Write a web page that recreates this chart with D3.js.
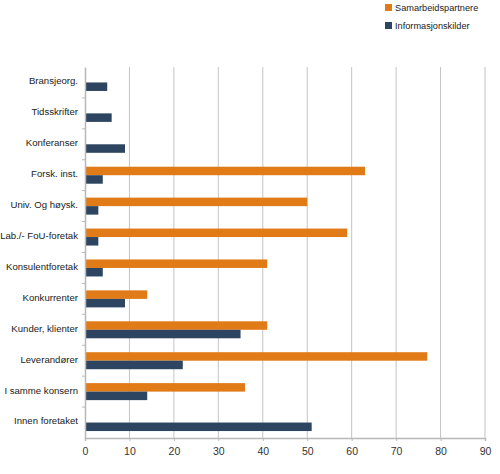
<!DOCTYPE html>
<html>
<head>
<meta charset="utf-8">
<script src="https://d3js.org/d3.v7.min.js"></script>
<style>
  body { margin: 0; background: #fff; }
  text { font-family: "Liberation Sans", Arial, sans-serif; }
</style>
</head>
<body>
<div id="container"></div>
<script>
let w = 500;
let h = 474;

// data
let categories = [
  "Bransjeorg.", "Tidsskrifter", "Konferanser", "Forsk. inst.",
  "Univ. Og høysk.", "Lab./- FoU-foretak", "Konsulentforetak", "Konkurrenter",
  "Kunder, klienter", "Leverandører", "I samme konsern", "Innen foretaket"
];
let samarbeid = [0, 0, 0, 63, 50, 59, 41, 14, 41, 77, 36, 0];
let informasjon = [5, 6, 9, 4, 3, 3, 4, 9, 35, 22, 14, 51];
let seriesNames = ["Samarbeidspartnere", "Informasjonskilder"];
let seriesColors = ["#e07b17", "#2d4560"];
let xTicks = [0, 10, 20, 30, 40, 50, 60, 70, 80, 90];

let plotLeft = 85, plotRight = 485, plotTop = 67, plotBottom = 438;

let viz = d3.select("#container")
  .append("svg")
    .attr("width", w)
    .attr("height", h)
;

let xScale = d3.scaleLinear().domain([0, 90]).range([plotLeft, plotRight]);
let yScale = d3.scaleBand().domain(categories).range([plotTop, plotBottom]);
// bars take 55% of the band, centred
let inner = d3.scaleBand().domain(seriesNames)
  .range([yScale.bandwidth() * 0.225, yScale.bandwidth() * 0.775]);

// gridlines
viz.append("g").attr("class", "grid")
  .selectAll("line").data(xTicks.slice(1)).enter()
  .append("line")
    .attr("x1", d => xScale(d)).attr("x2", d => xScale(d))
    .attr("y1", plotTop).attr("y2", plotBottom)
    .attr("stroke", d => d == 90 ? "#d6d6d6" : "#c4c4c4")
    .attr("stroke-width", d => d == 90 ? 1.5 : 1)
;

// x axis
let xAxisGroup = viz.append("g").attr("class", "xaxis")
  .attr("transform", "translate(0," + plotBottom + ")");
let xAxis = d3.axisBottom(xScale).tickValues(xTicks).tickSize(3).tickPadding(7);
xAxisGroup.call(xAxis);
xAxisGroup.select(".domain").attr("stroke", "#b8b8b8").attr("stroke-width", 1.5);
xAxisGroup.selectAll(".tick line").attr("stroke", "#b8b8b8");
xAxisGroup.selectAll("text").attr("font-size", 10.5).attr("fill", "#333")
  .attr("font-family", "'Liberation Sans', Arial, sans-serif");

// bars
let groups = viz.append("g").attr("class", "bars")
  .selectAll(".datagroup").data(categories).enter()
  .append("g")
    .attr("class", "datagroup")
    .attr("transform", d => "translate(0," + yScale(d) + ")")
;

groups.selectAll("rect")
  .data((d, i) => [
    { s: seriesNames[0], v: samarbeid[i], c: seriesColors[0] },
    { s: seriesNames[1], v: informasjon[i], c: seriesColors[1] }
  ])
  .enter()
  .append("rect")
    .attr("x", xScale(0))
    .attr("y", d => inner(d.s))
    .attr("width", d => xScale(d.v) - xScale(0))
    .attr("height", inner.bandwidth())
    .attr("fill", d => d.c)
;

// y axis
let yAxisGroup = viz.append("g").attr("class", "yaxis")
  .attr("transform", "translate(" + plotLeft + ",0)");
let yAxis = d3.axisLeft(yScale).tickSize(0).tickPadding(7);
yAxisGroup.call(yAxis);
yAxisGroup.select(".domain").attr("stroke", "#b8b8b8").attr("stroke-width", 1.5);
yAxisGroup.selectAll("text").attr("font-size", 9.6).attr("fill", "#222")
  .attr("font-family", "'Liberation Sans', Arial, sans-serif")
  .attr("dy", "0.2em");
// small ticks on band boundaries
yAxisGroup.selectAll(".bandtick")
  .data(categories.slice(1)).enter()
  .append("line")
    .attr("class", "bandtick")
    .attr("x1", -3).attr("x2", 0)
    .attr("y1", d => yScale(d)).attr("y2", d => yScale(d))
    .attr("stroke", "#b8b8b8")
;

// legend
let legend = viz.append("g").attr("class", "legend")
  .selectAll("g").data(seriesNames).enter()
  .append("g")
    .attr("transform", (d, i) => "translate(385," + (4 + i * 18) + ")")
;
legend.append("rect").attr("width", 7).attr("height", 7)
  .attr("fill", (d, i) => seriesColors[i]);
legend.append("text").text(d => d)
  .attr("x", 10).attr("y", 7)
  .attr("font-size", 9.2).attr("fill", "#222");
</script>
</body>
</html>
